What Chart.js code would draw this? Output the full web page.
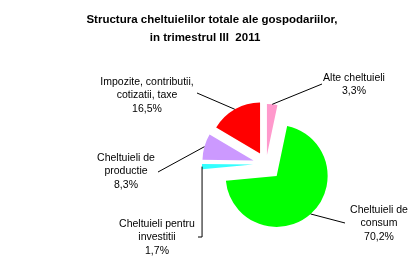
<!DOCTYPE html>
<html>
<head>
<meta charset="utf-8">
<script src="https://cdn.jsdelivr.net/npm/chart.js@4"></script>
<style>
  html, body { margin: 0; padding: 0; background: #fff; }
  canvas { display: block; }
</style>
</head>
<body>
<canvas id="pieChart" width="420" height="276"></canvas>
<script>
// Data (clockwise from 12 o'clock)
const categories = [
  ['Alte cheltuieli'],
  ['Cheltuieli de', 'consum'],
  ['Cheltuieli pentru', 'investitii'],
  ['Cheltuieli de', 'productie'],
  ['Impozite, contributii,', 'cotizatii, taxe']
];
const shares = [3.3, 70.2, 1.7, 8.3, 16.5];
const shareLabels = ['3,3%', '70,2%', '1,7%', '8,3%', '16,5%'];
const titleLines = ['Structura cheltuielilor totale ale gospodariilor,', 'in trimestrul III  2011'];

// Styles
const colors = ['#FF99CC', '#00FF00', '#33FFFF', '#CC99FF', '#FF0000'];
const explode = [9, 16, 13, 13, 12];
// label text centre (x, first line y) and the end point of each leader line
const labelPos = [[354, 78], [379, 210], [157, 224], [126, 158], [147, 82]];
const leaderEnd = [[322, 84], [345, 223], [198, 237], [158, 172], [197, 93]];
const lineGap = 13.5;

// Draw each slice pushed out along its middle angle
const explodePlugin = {
  id: 'explode',
  beforeDatasetDraw(chart, args) {
    const ctx = chart.ctx;
    args.meta.data.forEach((arc, i) => {
      const mid = (arc.startAngle + arc.endAngle) / 2;
      ctx.save();
      ctx.translate(Math.cos(mid) * explode[i], Math.sin(mid) * explode[i]);
      arc.draw(ctx);
      ctx.restore();
    });
    return false;
  }
};

// Title, slice labels and leader lines
const labelPlugin = {
  id: 'sliceLabels',
  afterDatasetsDraw(chart) {
    const ctx = chart.ctx;
    const arcs = chart.getDatasetMeta(0).data;
    ctx.save();
    ctx.fillStyle = '#000';
    ctx.textAlign = 'center';
    ctx.textBaseline = 'middle';

    ctx.font = 'bold 11.5px Arial, "Liberation Sans", sans-serif';
    ctx.fillText(titleLines[0], 212, 20);
    ctx.fillText(titleLines[1], 205, 38);

    ctx.strokeStyle = '#000';
    ctx.lineWidth = 1;
    arcs.forEach((arc, i) => {
      const mid = (arc.startAngle + arc.endAngle) / 2;
      const r = arc.outerRadius + explode[i];
      const sx = arc.x + Math.cos(mid) * r;
      const sy = arc.y + Math.sin(mid) * r;
      const [ex, ey] = leaderEnd[i];
      ctx.beginPath();
      ctx.moveTo(sx, sy);
      if (i === 2) {
        // investitii: vertical drop then a short tick to the label
        ctx.lineTo(sx, ey);
      }
      ctx.lineTo(ex, ey);
      ctx.stroke();
    });

    ctx.font = '10.5px Arial, "Liberation Sans", sans-serif';
    categories.forEach((lines, i) => {
      const [lx, ly] = labelPos[i];
      const all = lines.concat([shareLabels[i]]);
      all.forEach((t, k) => ctx.fillText(t, lx, ly + k * lineGap));
    });
    ctx.restore();
  }
};

const ctx = document.getElementById('pieChart').getContext('2d');
new Chart(ctx, {
  type: 'pie',
  data: {
    labels: categories.map(c => c.join(' ')),
    datasets: [{
      data: shares,
      backgroundColor: colors,
      borderWidth: 0,
      radius: 51
    }]
  },
  options: {
    responsive: false,
    animation: false,
    layout: { padding: { left: 170, right: 58, top: 90, bottom: 38 } },
    plugins: {
      legend: { display: false },
      tooltip: { enabled: false },
      title: { display: false }
    }
  },
  plugins: [explodePlugin, labelPlugin]
});
</script>
</body>
</html>
